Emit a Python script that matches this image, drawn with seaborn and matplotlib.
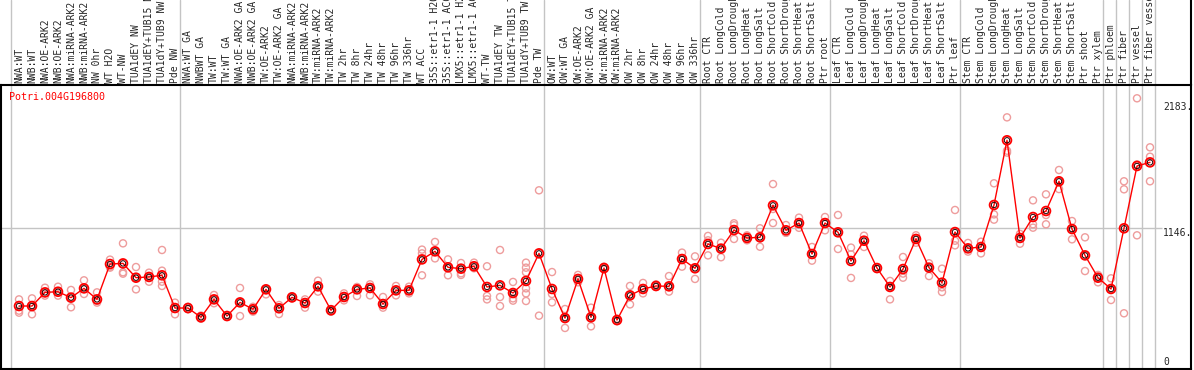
import numpy as np
import pandas as pd
import seaborn as sns
import matplotlib.pyplot as plt
import matplotlib.transforms as mtransforms

# sample labels, left to right
labels = [
    "NWA:WT", "NWB:WT", "NWA:OE-ARK2", "NWB:OE-ARK2", "NWA:miRNA-ARK2", "NWB:miRNA-ARK2",
    "NW 0hr", "WT H2O", "WT-NW", "TUA1dEY NW", "TUA1dEY+TUB15 NW", "TUA1dY+TUB9 NW", "Pde NW",
    "NWA:WT GA", "NWBWT GA", "TW:WT", "TW:WT GA", "NWA:OE-ARK2 GA", "NWB:OE-ARK2 GA",
    "TW:OE-ARK2", "TW:OE-ARK2 GA", "NWA:miRNA-ARK2", "NWB:miRNA-ARK2", "TW:miRNA-ARK2",
    "TW:miRNA-ARK2", "TW 2hr", "TW 8hr", "TW 24hr", "TW 48hr", "TW 96hr", "TW 336hr",
    "WT ACC", "35S::etr1-1 H2O", "35S::etr1-1 ACC", "LMX5::etr1-1 H2O", "LMX5::etr1-1 ACC",
    "WT-TW", "TUA1dEY TW", "TUA1dEY+TUB15 TW", "TUA1dY+TUB9 TW", "Pde TW",
    "OW:WT", "OW:WT GA", "OW:OE-ARK2", "OW:OE-ARK2 GA", "OW:miRNA-ARK2", "OW:miRNA-ARK2",
    "OW 2hr", "OW 8hr", "OW 24hr", "OW 48hr", "OW 96hr", "OW 336hr",
    "Root CTR", "Root LongCold", "Root LongDrought", "Root LongHeat", "Root LongSalt",
    "Root ShortCold", "Root ShortDrought", "Root ShortHeat", "Root ShortSalt", "Ptr root",
    "Leaf CTR", "Leaf LongCold", "Leaf LongDrought", "Leaf LongHeat", "Leaf LongSalt",
    "Leaf ShortCold", "Leaf ShortDrought", "Leaf ShortHeat", "Leaf ShortSalt", "Ptr leaf",
    "Stem CTR", "Stem LongCold", "Stem LongDrought", "Stem LongHeat", "Stem LongSalt",
    "Stem ShortCold", "Stem ShortDrought", "Stem ShortHeat", "Stem ShortSalt", "Ptr shoot",
    "Ptr xylem", "Ptr phloem", "Ptr fiber", "Ptr vessel", "Ptr fiber vessel",
]

# mean expression per sample
means = [
    526, 526, 635, 640, 593, 667, 579, 861, 866, 752, 758, 771, 510,
    510, 436, 579, 446, 555, 500, 659, 508, 595, 550, 683, 492, 598, 659, 670, 542, 651, 651,
    898, 962, 835, 824, 843, 678, 691, 630, 726, 946,
    662, 430, 742, 436, 829, 414, 611, 662, 686, 683, 901, 827,
    1021, 984, 1132, 1069, 1074, 1329, 1130, 1188, 941, 1188,
    1114, 885, 1047, 829, 678, 821, 1061, 832, 712, 1116,
    986, 997, 1332, 1848, 1069, 1236, 1284, 1521, 1140, 930,
    752, 662, 1146, 1643, 1672,
]

# replicate values per sample
replicates = [
    [579, 489, 473], [587, 526, 460], [672, 627, 609], [680, 640, 609], [654, 593, 516],
    [731, 662, 622], [635, 566, 553], [896, 840, 832], [1026, 795, 784], [837, 752, 659],
    [792, 758, 720], [973, 808, 720, 686], [553, 510, 460],
    [520, 502, 500], [450, 436, 425], [614, 579, 548], [455, 446, 440], [670, 555, 446],
    [520, 481, 500], [665, 659, 619], [534, 508, 462], [603, 595, 587], [579, 550, 513],
    [728, 683, 641], [502, 492, 481], [627, 598, 571], [678, 659, 606], [699, 670, 611],
    [598, 542, 513], [686, 651, 611], [680, 651, 627],
    [976, 946, 771], [1037, 962, 906], [898, 835, 771], [869, 824, 787, 774], [872, 845, 827],
    [843, 606, 579], [973, 598, 526], [718, 630, 587, 569], [872, 832, 795, 667, 627, 566],
    [1449, 449],
    [797, 622, 555], [502, 430, 351], [774, 742, 715], [513, 436, 364], [840, 829, 818],
    [425, 414, 405], [686, 611, 539], [710, 662, 627], [699, 686, 678], [765, 683, 641],
    [952, 901, 840], [922, 827, 742],
    [1085, 1050, 930], [1031, 984, 915], [1186, 1170, 1061], [1090, 1069, 1050],
    [1146, 1074, 999], [1499, 1300, 1188], [1172, 1111, 1110], [1231, 1188, 1150],
    [997, 941, 888], [1236, 1188, 1130],
    [1252, 1110, 981], [992, 938, 750], [1087, 1047, 997], [835, 829, 822], [726, 678, 579],
    [917, 785, 752], [1061, 1031, 1090], [867, 832, 765], [824, 675, 638], [1292, 1047, 1010],
    [1029, 986, 960], [1039, 997, 946], [1505, 1257, 1215], [2031, 1765, 1750],
    [1101, 1069, 1023], [1369, 1178, 1151], [1417, 1252, 1178], [1611, 1521, 1459],
    [1204, 1140, 1058], [1074, 930, 805],
    [774, 752, 715], [747, 662, 574], [1521, 1457, 468], [2183, 1656, 1090], [1792, 1717, 1521],
]

gene = "Potri.004G196800"
gridline_value = 1146
scale_labels = ["2183.", "1146.", "0"]
scale_label_pos = [2111, 1109, 82]
# group separators sit between samples
group_breaks = [-0.6, 12.4, 40.4, 52.4, 62.4, 72.4, 83.4, 84.4, 85.4, 86.4, 87.4]

W, H = 1194, 370
sns.set_style("white")
plt.rcParams['font.family'] = ['DejaVu Sans Mono']

fig = plt.figure(figsize=(W / 100, H / 100), dpi=100)
ax = fig.add_axes([1 / W, 1 / H, 1190 / W, 284 / H])

idx = np.arange(len(labels))
df_mean = pd.DataFrame({'idx': idx, 'value': means})
df_rep = pd.DataFrame([(i, v) for i, vals in enumerate(replicates) for v in vals],
                      columns=['idx', 'value'])

grid_col = '#c4c4c4'
xdata_fig = mtransforms.blended_transform_factory(ax.transData, fig.transFigure)
for b in group_breaks:
    ax.plot([b, b], [0, 1], transform=xdata_fig, color=grid_col, lw=1, clip_on=False, zorder=0)
ax.hlines(gridline_value, -1.5, 87.9, color=grid_col, lw=1, zorder=0)

# replicates, then the mean line with its markers
sns.scatterplot(data=df_rep, x='idx', y='value', ax=ax, s=26, facecolor='none',
                edgecolor='#ee9c9c', linewidth=1.0, zorder=2, legend=False)
sns.lineplot(data=df_mean, x='idx', y='value', ax=ax, color='red', lw=1.0, zorder=3)
sns.scatterplot(data=df_mean, x='idx', y='value', ax=ax, s=40, facecolor='none',
                edgecolor='red', linewidth=1.3, zorder=4, legend=False)
sns.scatterplot(data=df_mean, x='idx', y='value', ax=ax, s=15, facecolor='none',
                edgecolor='#220000', linewidth=0.7, zorder=5, legend=False)

ax.set_xlim((1 - 19) / 13, (1191 - 19) / 13)
ax.set_ylim(23.6, 2289.1)
ax.set_xticks([])
ax.set_yticks([])
ax.set_xlabel('')
ax.set_ylabel('')
for sp in ax.spines.values():
    sp.set_color('black')
    sp.set_linewidth(1.5)

# sample names above the plot
for i, lab in enumerate(labels):
    ax.text(i, (H - 83) / H, lab, transform=xdata_fig, rotation=90, ha='center',
            va='bottom', fontsize=7, clip_on=False)

# right border of the label strip
ax.plot([(1191 - 19) / 13] * 2, [(H - 85) / H, 1], transform=xdata_fig, color='black',
        lw=1.5, clip_on=False)

for lab, pos in zip(scale_labels, scale_label_pos):
    ax.text(88.0, pos, lab, ha='left', va='center', fontsize=7)

ax.text(8.3 / 1190, 1 - 12 / 284, gene, transform=ax.transAxes, color='red',
        fontsize=7.2, ha='left', va='center')

fig.savefig('out.png', dpi=100)
